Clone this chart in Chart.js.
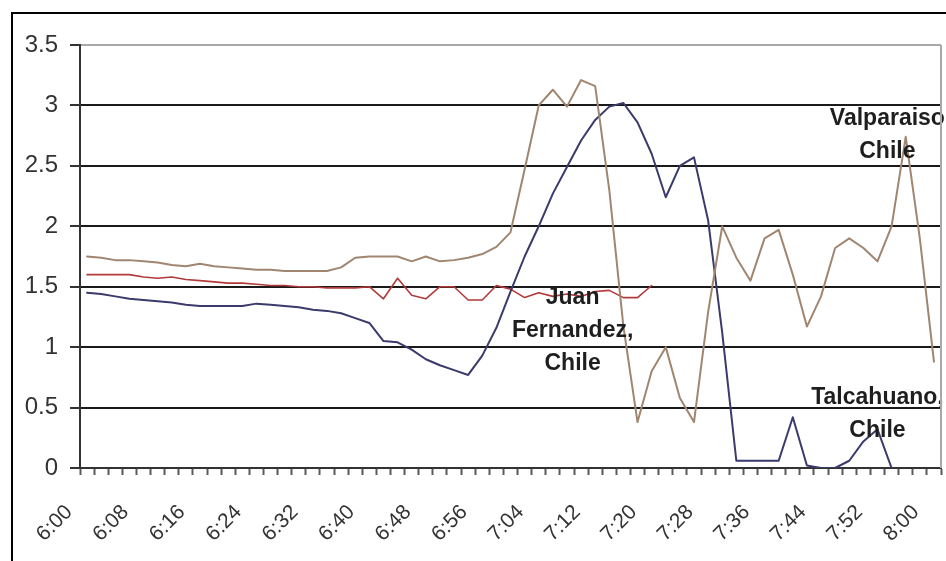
<!DOCTYPE html>
<html>
<head>
<meta charset="utf-8">
<script src="https://cdn.jsdelivr.net/npm/chart.js@4/dist/chart.umd.min.js"></script>
<style>
  html, body { margin: 0; padding: 0; background: #fff; }
  #wrap { width: 946px; height: 561px; }
</style>
</head>
<body>
<div id="wrap"><canvas id="c" width="946" height="561"></canvas></div>
<script>
// Readings every two minutes, 6:00 to 8:00
const times = [
  '6:00','6:02','6:04','6:06','6:08','6:10','6:12','6:14','6:16','6:18',
  '6:20','6:22','6:24','6:26','6:28','6:30','6:32','6:34','6:36','6:38',
  '6:40','6:42','6:44','6:46','6:48','6:50','6:52','6:54','6:56','6:58',
  '7:00','7:02','7:04','7:06','7:08','7:10','7:12','7:14','7:16','7:18',
  '7:20','7:22','7:24','7:26','7:28','7:30','7:32','7:34','7:36','7:38',
  '7:40','7:42','7:44','7:46','7:48','7:50','7:52','7:54','7:56','7:58',
  '8:00'
];

// Times that get a printed label on the horizontal axis
const shownTimes = ['6:00','6:08','6:16','6:24','6:32','6:40','6:48','6:56',
  '7:04','7:12','7:20','7:28','7:36','7:44','7:52','8:00'];

// Vertical axis ticks
const yTicks = [0, 0.5, 1, 1.5, 2, 2.5, 3, 3.5];

const valparaiso = [
  1.75, 1.74, 1.72, 1.72, 1.71, 1.70, 1.68, 1.67, 1.69, 1.67,
  1.66, 1.65, 1.64, 1.64, 1.63, 1.63, 1.63, 1.63, 1.66, 1.74,
  1.75, 1.75, 1.75, 1.71, 1.75, 1.71, 1.72, 1.74, 1.77, 1.83,
  1.95, 2.47, 3.00, 3.13, 2.99, 3.21, 3.16, 2.30, 1.17, 0.38,
  0.80, 1.00, 0.58, 0.38, 1.29, 2.00, 1.74, 1.55, 1.90, 1.97,
  1.60, 1.17, 1.42, 1.82, 1.90, 1.82, 1.71, 2.00, 2.74, 1.90,
  0.88
];

const talcahuano = [
  1.45, 1.44, 1.42, 1.40, 1.39, 1.38, 1.37, 1.35, 1.34, 1.34,
  1.34, 1.34, 1.36, 1.35, 1.34, 1.33, 1.31, 1.30, 1.28, 1.24,
  1.20, 1.05, 1.04, 0.98, 0.90, 0.85, 0.81, 0.77, 0.93, 1.16,
  1.46, 1.75, 2.00, 2.27, 2.49, 2.71, 2.88, 2.99, 3.02, 2.86,
  2.60, 2.24, 2.50, 2.57, 2.05, 1.12, 0.06, 0.06, 0.06, 0.06,
  0.42, 0.02, 0.00, 0.00, 0.06, 0.22, 0.32, 0.00, null, null,
  null
];

const juanFernandez = [
  1.60, 1.60, 1.60, 1.60, 1.58, 1.57, 1.58, 1.56, 1.55, 1.54,
  1.53, 1.53, 1.52, 1.51, 1.51, 1.50, 1.50, 1.49, 1.49, 1.49,
  1.50, 1.40, 1.57, 1.43, 1.40, 1.50, 1.50, 1.39, 1.39, 1.51,
  1.48, 1.41, 1.45, 1.42, 1.44, 1.42, 1.46, 1.47, 1.41, 1.41,
  1.51, null, null, null, null, null, null, null, null, null,
  null, null, null, null, null, null, null, null, null, null,
  null
];

const FONT = "'Liberation Sans', Arial, sans-serif";

// Station names written beside their traces (category index, value, lines)
const stationNotes = [
  { at: [56.7, 2.89], lines: ['Valparaiso', 'Chile'] },
  { at: [34.4, 1.41], lines: ['Juan', 'Fernandez,', 'Chile'] },
  { at: [56.0, 0.58], lines: ['Talcahuano,', 'Chile'] }
];

// White page, black frame and the grey right edge of the plot box
const framePlugin = {
  id: 'frame',
  beforeDraw(chart) {
    const c = chart.ctx;
    c.save();
    c.fillStyle = '#fff';
    c.fillRect(0, 0, chart.width, chart.height);
    c.strokeStyle = '#000';
    c.lineWidth = 2;
    c.beginPath();
    c.moveTo(12, chart.height);
    c.lineTo(12, 13);
    c.lineTo(chart.width, 13);
    c.stroke();
    c.restore();
  },
  afterDraw(chart) {
    const a = chart.chartArea;
    const c = chart.ctx;
    c.save();
    c.strokeStyle = '#a8a8a8';
    c.lineWidth = 2;
    c.beginPath();
    c.moveTo(a.right, a.top);
    c.lineTo(a.right, a.bottom);
    c.stroke();
    c.restore();
  }
};

const notesPlugin = {
  id: 'notes',
  afterDatasetsDraw(chart) {
    const c = chart.ctx;
    const xs = chart.scales.x, ys = chart.scales.y;
    c.save();
    c.font = 'bold 23px ' + FONT;
    c.fillStyle = '#1e1e1e';
    c.textAlign = 'center';
    c.textBaseline = 'middle';
    stationNotes.forEach(n => {
      const x = xs.getPixelForValue(n.at[0]);
      const y = ys.getPixelForValue(n.at[1]);
      n.lines.forEach((t, k) => c.fillText(t, x, y + k * 33));
    });
    c.restore();
  }
};

new Chart(document.getElementById('c'), {
  type: 'line',
  data: {
    labels: times,
    datasets: [
      { label: 'Valparaiso, Chile', data: valparaiso, borderColor: '#a08670', borderWidth: 2 },
      { label: 'Talcahuano, Chile', data: talcahuano, borderColor: '#3a3a6c', borderWidth: 2 },
      { label: 'Juan Fernandez, Chile', data: juanFernandez, borderColor: '#b23a3a', borderWidth: 1.6 }
    ]
  },
  options: {
    responsive: false,
    animation: false,
    devicePixelRatio: 1,
    spanGaps: false,
    layout: { padding: { left: 0, top: 45, right: 5, bottom: 0 } },
    plugins: { legend: { display: false }, tooltip: { enabled: false } },
    elements: {
      point: { radius: 0 },
      line: { tension: 0, borderJoinStyle: 'round', borderCapStyle: 'round' }
    },
    scales: {
      x: {
        offset: true,
        grid: {
          offset: true,
          drawOnChartArea: false,
          drawTicks: true,
          tickLength: 7,
          tickColor: '#5a5a5a',
          tickWidth: 2
        },
        border: { color: '#333', width: 2 },
        ticks: {
          autoSkip: false,
          minRotation: 45,
          maxRotation: 45,
          padding: 25,
          labelOffset: -18,
          color: '#333',
          font: { family: FONT, size: 21 },
          callback: (v, i) => shownTimes.includes(times[i]) ? times[i] : ''
        },
        afterFit: s => { s.height = 93; s.paddingLeft = 0; s.paddingRight = 0; }
      },
      y: {
        min: 0,
        max: 3.5,
        afterBuildTicks: s => { s.ticks = yTicks.map(v => ({ value: v })); },
        grid: {
          color: ctx => (ctx.tick && ctx.tick.value === 3.5) ? '#a8a8a8' : '#1a1a1a',
          lineWidth: 2,
          tickLength: 10,
          tickColor: '#333',
          tickWidth: 2
        },
        border: { color: '#333', width: 2 },
        ticks: {
          padding: 12,
          color: '#333',
          font: { family: FONT, size: 24 },
          callback: v => String(v)
        },
        afterFit: s => { s.width = 80; }
      }
    }
  },
  plugins: [framePlugin, notesPlugin]
});
</script>
</body>
</html>
